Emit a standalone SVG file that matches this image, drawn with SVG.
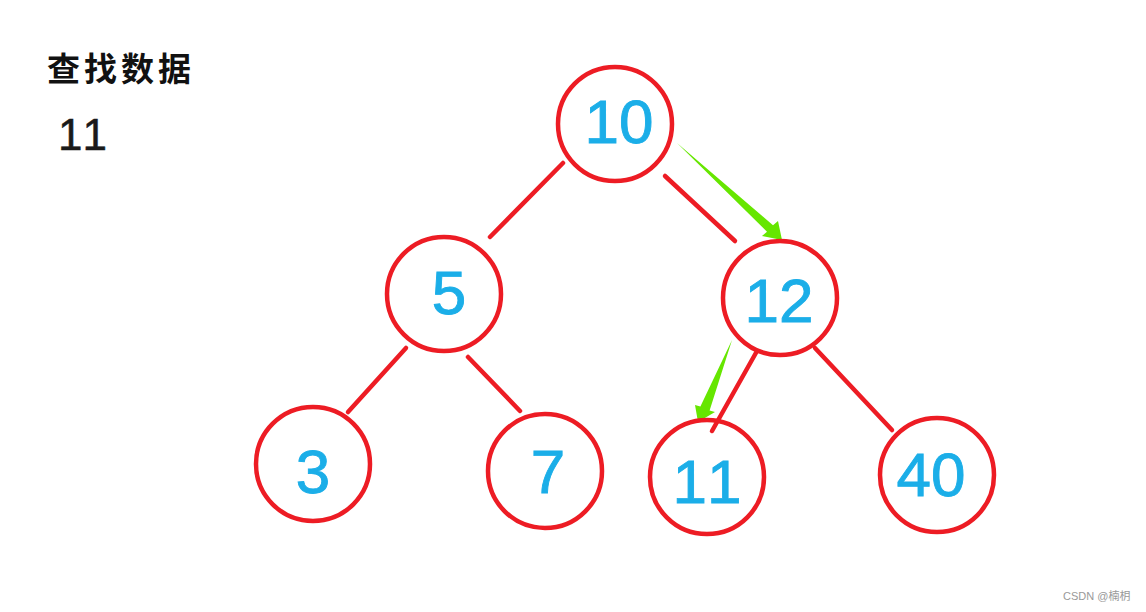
<svg xmlns="http://www.w3.org/2000/svg" width="1146" height="612" viewBox="0 0 1146 612">
<style>
text{font-kerning:none}
.node circle{fill:none;stroke:#ED1C24;stroke-width:4.5}
.node text{font-family:"Liberation Sans",Arial,sans-serif;font-size:62px;fill:#1BAEE8;stroke:#1BAEE8;stroke-width:0.9;text-anchor:middle}
.edge{stroke:#ED1C24;stroke-width:4.5;stroke-linecap:round;fill:none}
.arrow{fill:#66E600}
</style>
<rect width="1146" height="612" fill="#fff"/>
<text x="47" y="81" font-family="'Noto Sans CJK SC',sans-serif" font-size="33" font-weight="bold" letter-spacing="4" fill="#111">查找数据</text>
<text x="58" y="150" font-family="'Liberation Sans',Arial,sans-serif" font-size="44" fill="#1a1a1a" stroke="#1a1a1a" stroke-width="0.5">11</text>
<g id="connectors">
<line class="edge" x1="563" y1="163" x2="490" y2="237"/>
<line class="edge" x1="665" y1="176" x2="735" y2="241"/>
<line class="edge" x1="406" y1="348" x2="348" y2="412"/>
<line class="edge" x1="468" y1="357" x2="520" y2="411"/>
<line class="edge" x1="757" y1="351" x2="712" y2="431"/>
<line class="edge" x1="815" y1="348" x2="892" y2="430"/>
<polygon class="arrow" points="677,143 773,225.2 778,221 782,240 762,236 767,231.8"/>
<polygon class="arrow" points="732,340 709.6,410.4 715,412 698,422 695,405 700.4,406.6"/>
</g>
<g id="n10" class="node"><circle cx="615" cy="124" r="57"/><text x="619" y="143">10</text></g>
<g id="n5" class="node"><circle cx="444" cy="294" r="57"/><text x="449" y="314">5</text></g>
<g id="n12" class="node"><circle cx="780" cy="298" r="57"/><text x="779" y="322">12</text></g>
<g id="n3" class="node"><circle cx="313" cy="464" r="57"/><text x="313" y="493">3</text></g>
<g id="n7" class="node"><circle cx="545" cy="471" r="57"/><text x="548" y="493">7</text></g>
<g id="n11" class="node"><circle cx="707" cy="477" r="57"/><text x="707" y="503">11</text></g>
<g id="n40" class="node"><circle cx="937" cy="475" r="57"/><text x="931" y="496">40</text></g>
<text x="1063" y="600" font-family="'Liberation Sans','Noto Sans CJK SC',sans-serif" font-size="11" fill="#999">CSDN @楠枂</text>
</svg>
